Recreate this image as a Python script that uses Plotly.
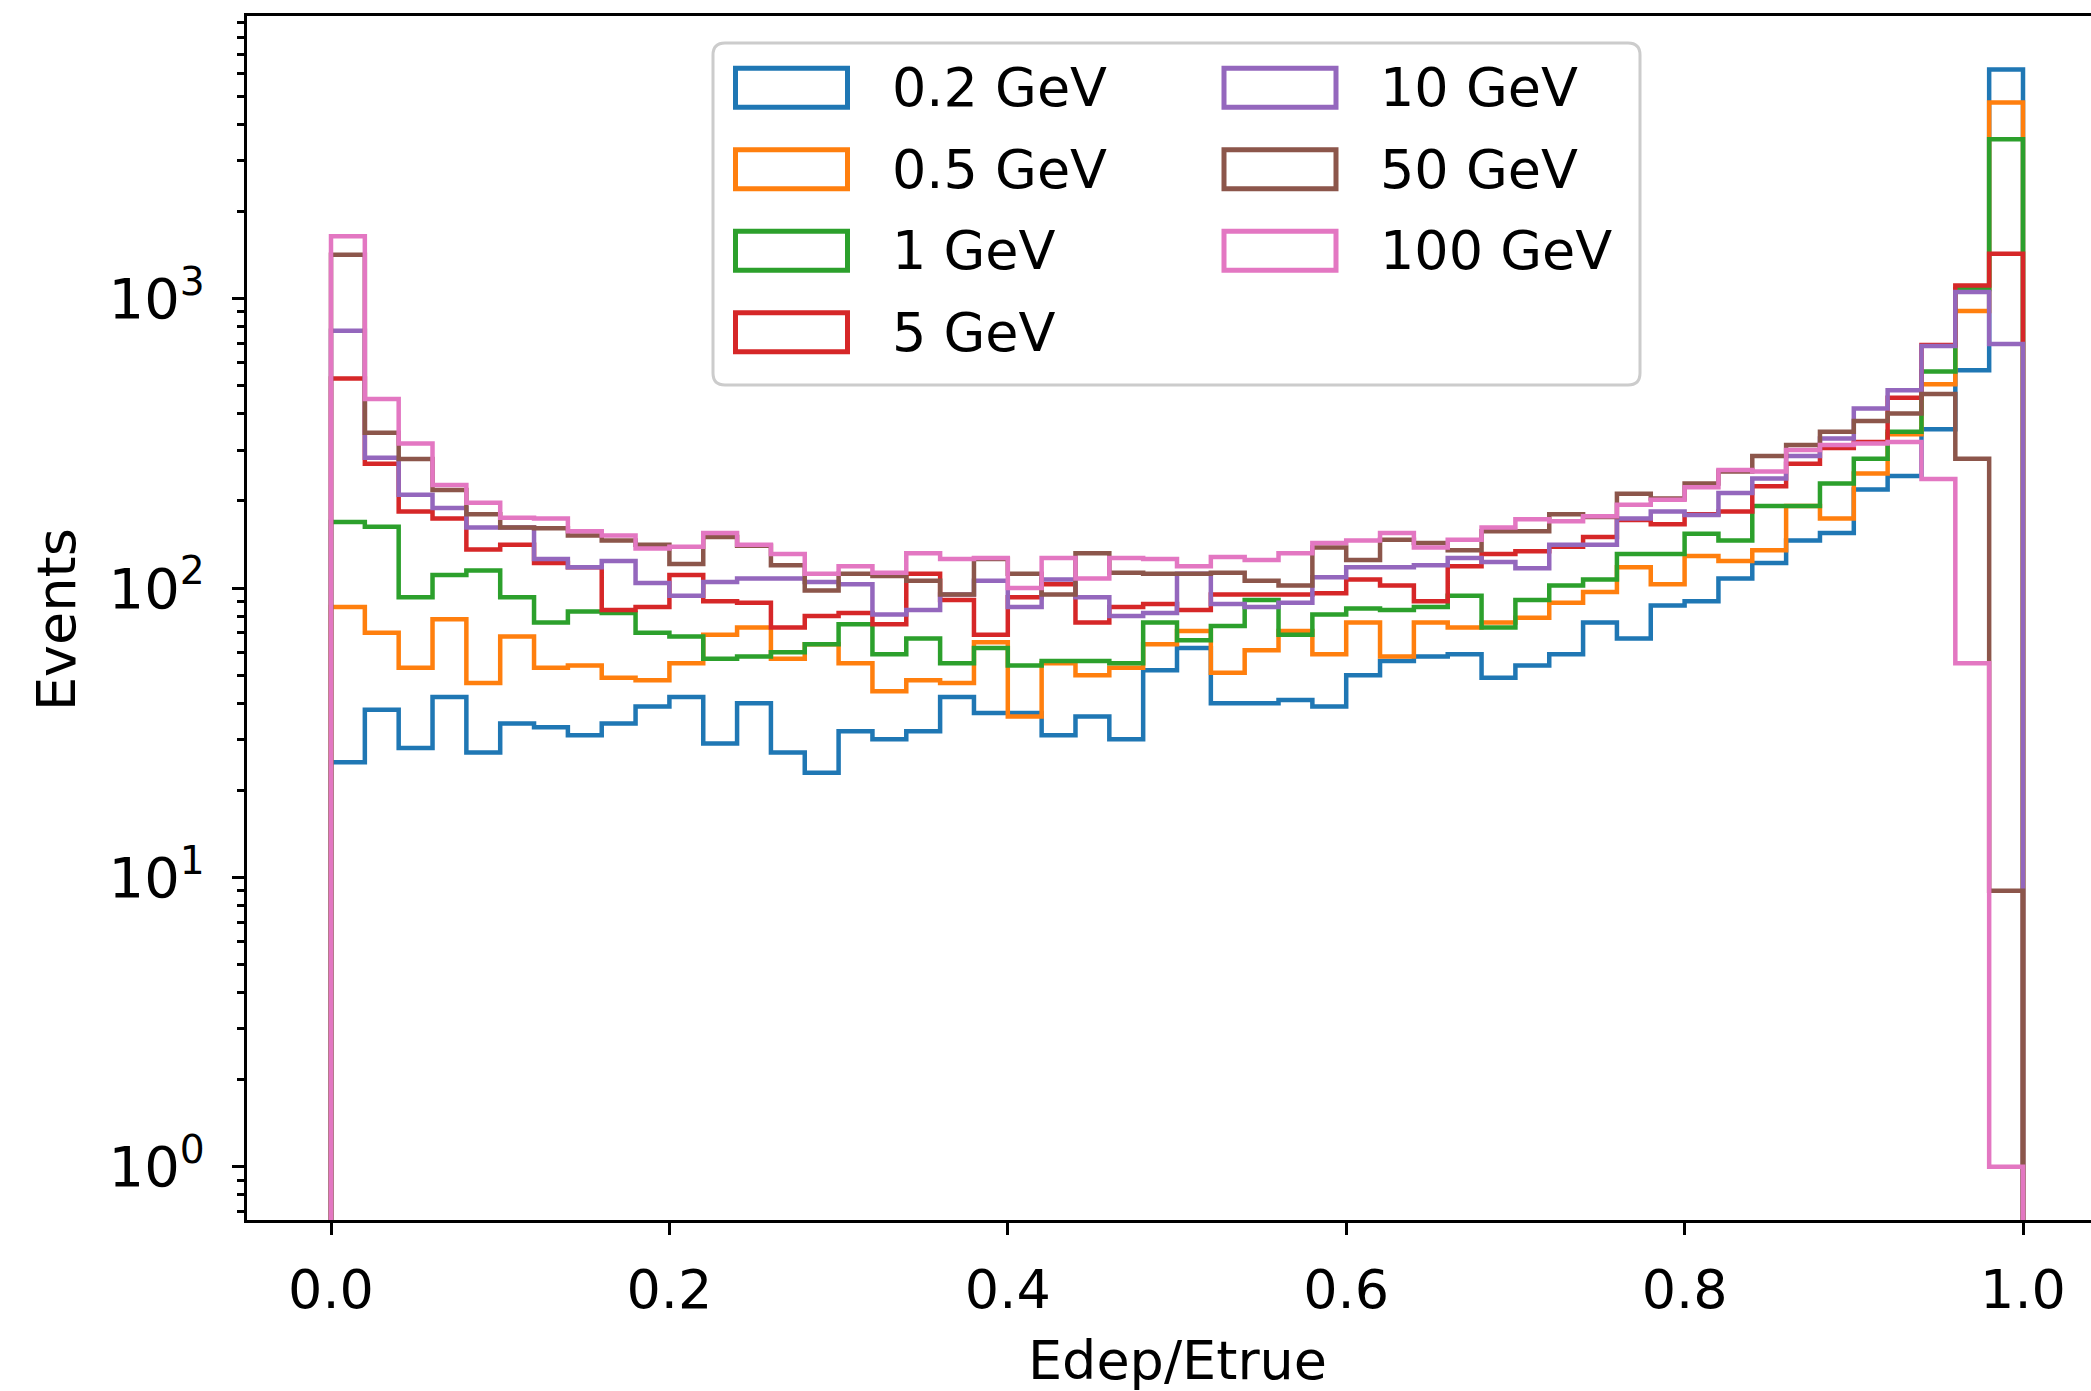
import numpy as np
import plotly.graph_objects as go

# ---------------- data ----------------
bin_edges = np.linspace(0.0, 1.0, 51)  # 50 bins of width 0.02

labels = ["0.2 GeV", "0.5 GeV", "1 GeV", "5 GeV", "10 GeV", "50 GeV", "100 GeV"]
colors = ["#1f77b4", "#ff7f0e", "#2ca02c", "#d62728", "#9467bd", "#8c564b", "#e377c2"]

counts_0p2GeV = [25, 38, 28, 42, 27, 34, 33, 31, 34, 39,
                 42, 29, 40, 27, 23, 32, 30, 32, 42, 37,
                 37, 31, 36, 30, 52, 62, 40, 40, 41, 39,
                 50, 56, 58, 59, 49, 54, 59, 76, 67, 87,
                 90, 108, 122, 146, 155, 219, 244, 354, 566, 6200]
counts_0p5GeV = [86, 70, 53, 78, 47, 68, 53, 54, 49, 48,
                 55, 69, 73, 57, 64, 55, 44, 48, 47, 65,
                 36, 55, 50, 53, 64, 71, 51, 61, 71, 59,
                 76, 58, 76, 73, 76, 79, 89, 97, 118, 103,
                 129, 124, 135, 192, 174, 249, 340, 506, 906, 4765]
counts_1GeV = [169, 163, 93, 111, 115, 93, 76, 83, 82, 70,
               68, 57, 58, 60, 64, 75, 59, 67, 55, 62,
               54, 56, 56, 55, 76, 66, 74, 91, 69, 81,
               85, 84, 86, 94, 73, 91, 102, 107, 131, 131,
               154, 146, 192, 192, 230, 280, 347, 560, 1080, 3556]
counts_5GeV = [530, 269, 184, 174, 136, 141, 122, 118, 84, 86,
               111, 90, 89, 73, 80, 82, 75, 112, 91, 69,
               93, 103, 76, 86, 88, 84, 95, 95, 95, 96,
               107, 102, 90, 119, 131, 134, 139, 150, 172, 166,
               180, 184, 225, 269, 305, 320, 455, 692, 1110, 1430]
counts_10GeV = [775, 282, 210, 189, 162, 162, 126, 118, 124, 104,
                94, 105, 108, 108, 105, 103, 81, 84, 95, 106,
                86, 107, 93, 80, 82, 112, 88, 86, 89, 109,
                118, 118, 120, 127, 123, 117, 141, 141, 174, 184,
                179, 213, 239, 286, 329, 417, 483, 686, 1055, 697]
counts_50GeV = [1419, 344, 279, 218, 180, 162, 161, 152, 146, 141,
                121, 150, 140, 120, 98, 112, 110, 106, 95, 126,
                112, 95, 132, 113, 112, 112, 113, 106, 102, 138,
                125, 147, 143, 135, 157, 157, 180, 176, 212, 204,
                230, 253, 286, 312, 347, 378, 401, 468, 280, 9]
counts_100GeV = [1644, 450, 316, 227, 197, 175, 174, 157, 152, 137,
                 139, 155, 141, 131, 112, 119, 113, 132, 126, 127,
                 100, 127, 108, 127, 126, 119, 128, 125, 132, 143,
                 146, 155, 138, 147, 162, 173, 170, 177, 194, 202,
                 223, 256, 253, 300, 312, 316, 320, 238, 55, 1]

series = [counts_0p2GeV, counts_0p5GeV, counts_1GeV, counts_5GeV,
          counts_10GeV, counts_50GeV, counts_100GeV]

x_tickvals = [0.0, 0.2, 0.4, 0.6, 0.8, 1.0]
y_tickvals = [1, 10, 100, 1000]
y_ticktext = ["10<sup>0</sup>", "10<sup>1</sup>", "10<sup>2</sup>", "10<sup>3</sup>"]
x_title = "Edep/Etrue"
y_title = "Events"

# ---------------- layout constants (pixels) ----------------
W, H = 2091, 1391
L, R, T, B = 247, 0, 16, 171
PW, PH = W - L - R, H - T - B
X0_PX, X1_PX = 331, 2023          # pixel of x=0 and x=1
xr = [-(X0_PX - L) / (X1_PX - X0_PX), (W - R - X0_PX) / (X1_PX - X0_PX)]
yr = [-0.184, 3.977]
FONT = "DejaVu Sans"
FS = 54
FLOOR = 1e-3


def px(xp):
    return (xp - L) / PW


def py(yp):
    return (H - B - yp) / PH


fig = go.Figure()
for counts, name, col in zip(series, labels, colors):
    xs = [bin_edges[0]] + list(bin_edges[:-1]) + [bin_edges[-1], bin_edges[-1]]
    ys = [FLOOR] + list(counts) + [counts[-1], FLOOR]
    fig.add_trace(go.Scatter(x=xs, y=ys, mode="lines", name=name,
                             line=dict(color=col, width=4.5, shape="hv"),
                             showlegend=False))

minor_vals = [m * 10.0 ** d for d in range(-1, 4) for m in range(2, 10)
              if yr[0] < np.log10(m * 10.0 ** d) < yr[1]]

fig.update_layout(
    width=W, height=H,
    margin=dict(l=L, r=R, t=T, b=B, pad=0),
    paper_bgcolor="white", plot_bgcolor="white",
    font=dict(family=FONT, size=FS, color="black"),
    showlegend=False,
    xaxis=dict(range=xr, tickvals=x_tickvals, tickformat=".1f",
               ticks="outside", ticklen=12, tickwidth=3, tickcolor="black",
               showline=True, linewidth=3, linecolor="black", mirror=True,
               showgrid=False, zeroline=False,
               tickfont=dict(family=FONT, size=FS, color="black"),
               ticklabelstandoff=8),
    yaxis=dict(type="log", range=yr, tickvals=y_tickvals, ticktext=y_ticktext,
               ticks="outside", ticklen=12, tickwidth=3, tickcolor="black",
               showline=True, linewidth=3, linecolor="black", mirror=False,
               showgrid=False, zeroline=False,
               tickfont=dict(family=FONT, size=56, color="black"),
               ticklabelstandoff=16,
               minor=dict(tickvals=minor_vals, ticks="outside", ticklen=7,
                          tickwidth=2.5, tickcolor="black", showgrid=False)),
)

# axis titles
fig.add_annotation(text=x_title, x=0.5, xref="x", y=py(1360), yref="paper",
                   xanchor="center", yanchor="middle", showarrow=False,
                   font=dict(family=FONT, size=FS, color="black"))
fig.add_annotation(text=y_title, x=px(56), xref="paper", y=py(620), yref="paper",
                   xanchor="center", yanchor="middle", showarrow=False, textangle=-90,
                   font=dict(family=FONT, size=FS, color="black"))

# legend (two columns, framed)
LX0, LX1, LY0, LY1, RAD = 713, 1640, 43, 385, 12
frame = (f"M {px(LX0 + RAD)},{py(LY0)} L {px(LX1 - RAD)},{py(LY0)} "
         f"Q {px(LX1)},{py(LY0)} {px(LX1)},{py(LY0 + RAD)} "
         f"L {px(LX1)},{py(LY1 - RAD)} Q {px(LX1)},{py(LY1)} {px(LX1 - RAD)},{py(LY1)} "
         f"L {px(LX0 + RAD)},{py(LY1)} Q {px(LX0)},{py(LY1)} {px(LX0)},{py(LY1 - RAD)} "
         f"L {px(LX0)},{py(LY0 + RAD)} Q {px(LX0)},{py(LY0)} {px(LX0 + RAD)},{py(LY0)} Z")
fig.add_shape(type="path", path=frame, xref="paper", yref="paper",
              line=dict(color="#cccccc", width=3), fillcolor="rgba(255,255,255,0.8)",
              layer="above")

col_handle_x = [791.5, 1280.0]
col_text_x = [890, 1378]
row_y0, row_step = 87.8, 81.5
HW, HH = 112, 39
for i, (name, col) in enumerate(zip(labels, colors)):
    c, r = (0, i) if i < 4 else (1, i - 4)
    cy = row_y0 + r * row_step
    cx = col_handle_x[c]
    fig.add_shape(type="rect", xref="paper", yref="paper",
                  x0=px(cx - HW / 2), x1=px(cx + HW / 2),
                  y0=py(cy + HH / 2), y1=py(cy - HH / 2),
                  line=dict(color=col, width=5), fillcolor="rgba(0,0,0,0)",
                  layer="above")
    fig.add_annotation(text=name, x=px(col_text_x[c]), xref="paper",
                       y=py(cy), yref="paper", xanchor="left", yanchor="middle",
                       showarrow=False,
                       font=dict(family=FONT, size=FS, color="black"))

fig.write_html("out.html")
